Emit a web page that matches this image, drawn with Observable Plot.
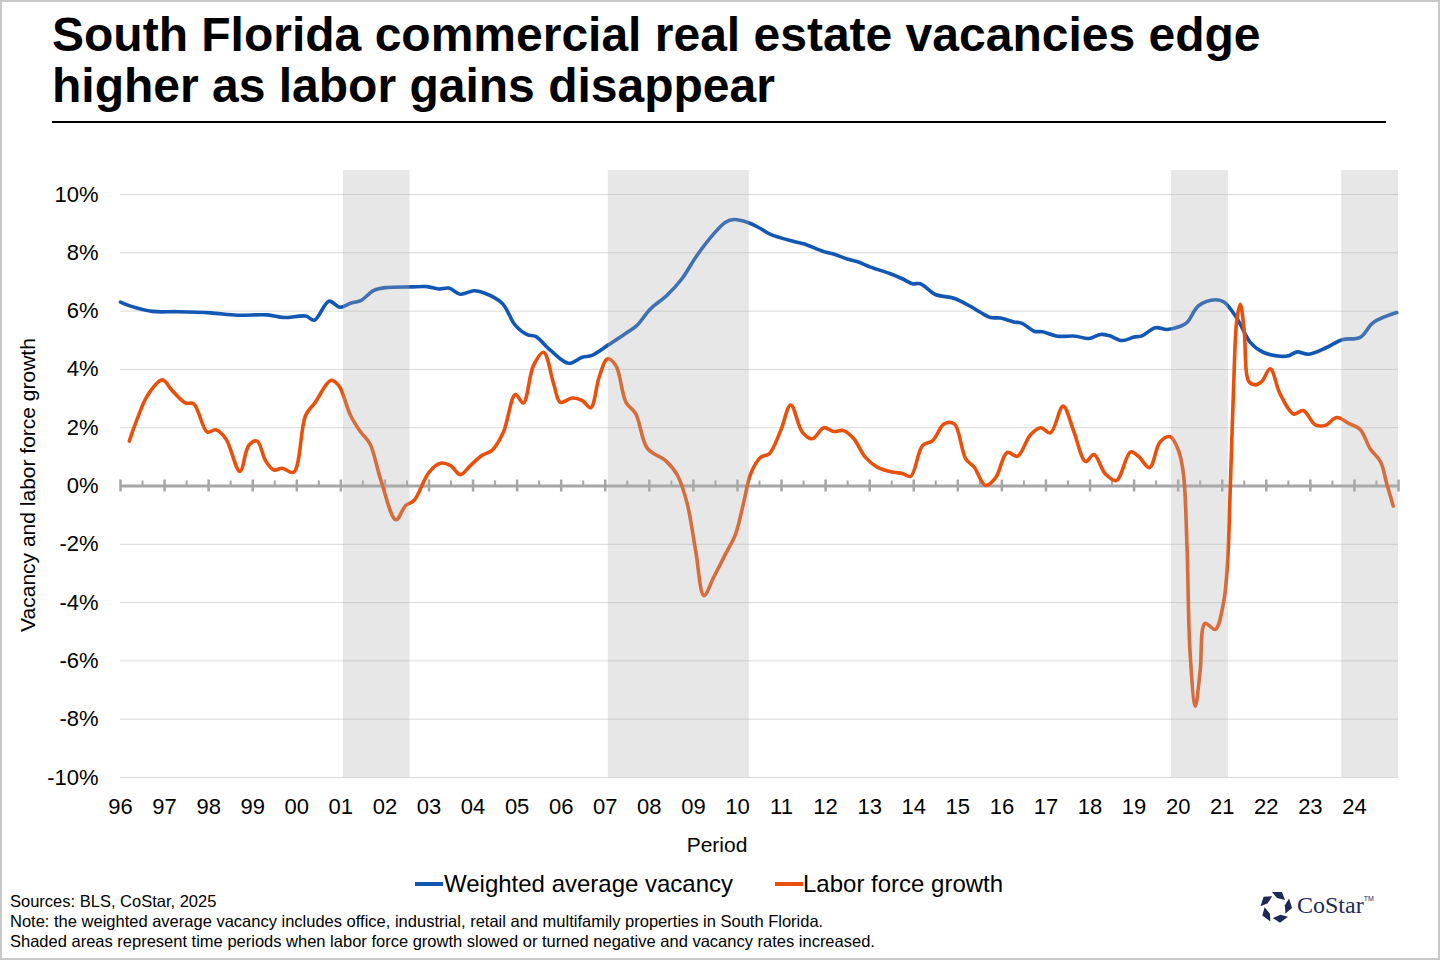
<!DOCTYPE html>
<html>
<head>
<meta charset="utf-8">
<script src="https://cdn.jsdelivr.net/npm/d3@7"></script>
<script src="https://cdn.jsdelivr.net/npm/@observablehq/plot@0.6"></script>
<style>
  html, body { margin: 0; padding: 0; background: #fff; }
  #frame { position: relative; width: 1440px; height: 960px; overflow: hidden; background: #fff;
           font-family: "Liberation Sans", Arial, sans-serif; color: #000; }
  #border { position: absolute; left: 0; top: 0; width: 1440px; height: 960px; box-sizing: border-box;
            border: 2px solid #c8c8c8; pointer-events: none; }
  #title { position: absolute; left: 52px; top: 9px; font-weight: bold; font-size: 48px; line-height: 51px; white-space: nowrap; }
  #rule { position: absolute; left: 52px; top: 121px; width: 1334px; height: 2px; background: #000; }
  #chart { position: absolute; left: 0; top: 150px; }
  #ylabel { position: absolute; left: 28px; top: 485px; transform: translate(-50%, -50%) rotate(-90deg);
            font-size: 21px; white-space: nowrap; }
  #xlabel { position: absolute; left: 717px; top: 845px; transform: translate(-50%, -50%); font-size: 21px; }
  .sw { position: absolute; height: 4px; width: 28px; }
  .lg { position: absolute; font-size: 24px; line-height: 28px; white-space: nowrap; }
  #notes { position: absolute; left: 10px; top: 891px; font-size: 16.5px; line-height: 20px; white-space: nowrap; }
  #logo { position: absolute; left: 1258px; top: 889px; }
  #logotext { position: absolute; left: 1297px; top: 892px; font-family: "Liberation Serif", "DejaVu Serif", serif;
              font-size: 24px; color: #1d2a57; white-space: nowrap; }
  #logotext sup { font-size: 7px; vertical-align: 12px; font-family: "Liberation Sans", Arial, sans-serif; }
</style>
</head>
<body>
<div id="frame">
  <div id="title">South Florida commercial real estate vacancies edge<br>higher as labor gains disappear</div>
  <div id="rule"></div>
  <div id="chart"></div>
  <div id="ylabel">Vacancy and labor force growth</div>
  <div id="xlabel">Period</div>
  <div class="sw" style="left:415px; top:882px; background:#1257b3;"></div>
  <div class="lg" style="left:444px; top:870px;">Weighted average vacancy</div>
  <div class="sw" style="left:775px; top:882px; background:#e8500c;"></div>
  <div class="lg" style="left:803px; top:870px;">Labor force growth</div>
  <div id="notes">Sources: BLS, CoStar, 2025<br>Note: the weighted average vacancy includes office, industrial, retail and multifamily properties in South Florida.<br>Shaded areas represent time periods when labor force growth slowed or turned negative and vacancy rates increased.</div>
  <svg id="logo" width="36" height="36" viewBox="-18 -18 36 36">
    <g fill="#1d2a57">
      <polygon points="-4,-15 6,-15 9,-7 1,-9" transform="rotate(0)"/>
      <polygon points="-4,-15 6,-15 9,-7 1,-9" transform="rotate(72)"/>
      <polygon points="-4,-15 6,-15 9,-7 1,-9" transform="rotate(144)"/>
      <polygon points="-4,-15 6,-15 9,-7 1,-9" transform="rotate(216)"/>
      <polygon points="-4,-15 6,-15 9,-7 1,-9" transform="rotate(288)"/>
    </g>
  </svg>
  <div id="logotext">CoStar<sup>TM</sup></div>
  <div id="border"></div>
</div>
<script>
// ---- Data ----
const vacancyDates = [1996.00,1996.23,1996.72,1997.29,1998.04,1998.65,1999.33,1999.71,2000.20,2000.40,2000.73,2000.98,2001.22,2001.45,2001.75,2002.05,2002.58,2002.96,2003.22,2003.45,2003.71,2004.02,2004.24,2004.66,2004.96,2005.23,2005.42,2005.76,2006.17,2006.48,2006.70,2007.08,2007.53,2007.72,2008.03,2008.40,2008.74,2009.08,2009.46,2009.73,2009.92,2010.22,2010.49,2010.75,2011.28,2011.50,2011.96,2012.18,2012.49,2012.71,2013.02,2013.47,2013.74,2013.97,2014.15,2014.49,2014.91,2015.29,2015.51,2015.74,2015.97,2016.27,2016.46,2016.73,2016.92,2017.26,2017.67,2017.97,2018.24,2018.43,2018.73,2019.00,2019.18,2019.48,2019.75,2020.05,2020.20,2020.47,2020.85,2021.04,2021.34,2021.64,2021.94,2022.32,2022.51,2022.70,2022.96,2023.38,2023.72,2024.13,2024.43,2024.96];
const vacancyValues = [6.31,6.17,5.99,5.98,5.94,5.86,5.87,5.78,5.83,5.69,6.34,6.13,6.27,6.36,6.71,6.81,6.83,6.84,6.76,6.79,6.58,6.70,6.63,6.27,5.51,5.19,5.13,4.65,4.21,4.42,4.48,4.85,5.30,5.51,6.08,6.54,7.11,7.91,8.65,9.05,9.14,9.05,8.86,8.63,8.39,8.31,8.04,7.96,7.79,7.70,7.51,7.28,7.11,6.94,6.94,6.57,6.44,6.16,5.96,5.78,5.76,5.63,5.58,5.31,5.29,5.14,5.14,5.06,5.20,5.16,4.99,5.11,5.15,5.43,5.37,5.48,5.61,6.19,6.39,6.31,5.74,4.92,4.58,4.45,4.47,4.60,4.52,4.76,5.02,5.10,5.61,5.95];

const laborDates = [1996.20,1996.38,1996.61,1996.95,1997.17,1997.47,1997.66,1997.97,1998.16,1998.39,1998.71,1998.91,1999.10,1999.29,1999.48,1999.67,1999.93,2000.20,2000.42,2000.77,2000.95,2001.22,2001.45,2001.66,2001.91,2002.25,2002.47,2002.66,2003.00,2003.26,2003.49,2003.71,2003.94,2004.20,2004.43,2004.69,2004.96,2005.14,2005.37,2005.60,2005.83,2005.98,2006.25,2006.48,2006.67,2006.86,2007.05,2007.24,2007.47,2007.69,2007.96,2008.37,2008.64,2008.86,2009.05,2009.24,2009.46,2009.73,2009.96,2010.15,2010.30,2010.53,2010.72,2010.98,2011.21,2011.47,2011.70,2011.96,2012.18,2012.41,2012.64,2012.90,2013.17,2013.55,2013.74,2013.93,2014.20,2014.43,2014.69,2014.92,2015.18,2015.37,2015.63,2015.86,2016.12,2016.35,2016.65,2016.88,2017.10,2017.39,2017.63,2017.90,2018.09,2018.35,2018.60,2018.92,2019.10,2019.35,2019.59,2019.82,2020.01,2020.12,2020.20,2020.27,2020.39,2020.50,2020.61,2020.84,2021.03,2021.12,2021.18,2021.26,2021.33,2021.41,2021.50,2021.60,2021.75,2021.90,2022.09,2022.31,2022.62,2022.84,2023.11,2023.34,2023.60,2023.87,2024.13,2024.36,2024.59,2024.74,2024.88];
const laborValues = [1.54,2.30,3.10,3.64,3.28,2.85,2.82,1.85,1.93,1.62,0.50,1.39,1.54,0.87,0.55,0.61,0.47,2.42,2.87,3.62,3.45,2.42,1.85,1.45,0.19,-1.16,-0.67,-0.50,0.47,0.78,0.70,0.39,0.70,1.05,1.22,1.85,3.14,2.85,4.13,4.59,3.50,2.87,3.02,2.93,2.68,3.73,4.36,4.13,2.87,2.48,1.28,0.87,0.36,-0.61,-2.21,-3.76,-3.13,-2.33,-1.64,-0.50,0.42,0.99,1.10,1.90,2.78,1.85,1.62,2.00,1.87,1.90,1.62,0.99,0.65,0.47,0.43,0.33,1.39,1.56,2.13,2.13,0.93,0.65,0.02,0.29,1.15,1.02,1.76,2.00,1.82,2.74,1.88,0.84,1.08,0.41,0.19,1.17,1.02,0.63,1.51,1.69,1.21,0.41,-2.04,-5.71,-7.55,-6.33,-4.71,-4.92,-4.00,-2.65,-0.20,3.47,5.68,6.23,5.31,3.59,3.47,3.59,4.02,3.17,2.47,2.59,2.10,2.08,2.35,2.15,1.94,1.27,0.84,0.04,-0.69];

// Shaded periods (start / end, in years)
const shadeStarts = [2001.06, 2007.07, 2019.85, 2023.71];
const shadeEnds   = [2002.57, 2010.27, 2021.14, 2025.00];

// Axis ticks and labels
const yTicks = [-10, -8, -6, -4, -2, 0, 2, 4, 6, 8, 10];
const yearTicks = d3.range(1996, 2025);
const yearLabels = ["96","97","98","99","00","01","02","03","04","05","06","07","08","09","10","11","12","13","14","15","16","17","18","19","20","21","22","23","24"];
const majorTicks = d3.range(1996, 2026);
const minorTicks = d3.range(1996, 2025).map(y => y + 0.5);

// ---- Tables ----
const vacancy = vacancyDates.map((t, i) => ({t, v: vacancyValues[i]}));
const labor = laborDates.map((t, i) => ({t, v: laborValues[i]}));
const shades = shadeStarts.map((s, i) => ({start: s, end: shadeEnds[i]}));

const BLUE = "#1257b3", ORANGE = "#e8500c", AXIS = "#a6a6a6";

const chart = Plot.plot({
  width: 1440,
  height: 720,
  marginLeft: 120,
  marginRight: 42,
  marginTop: 44,
  marginBottom: 93,
  x: {type: "linear", domain: [1996, 2025]},
  y: {domain: [-10, 10]},
  style: {fontFamily: '"Liberation Sans", Arial, sans-serif', color: "#000", background: "transparent", overflow: "visible"},
  marks: [
    Plot.ruleY(yTicks.filter(d => d !== 0), {stroke: "#d9d9d9", strokeWidth: 1}),
    Plot.axisY({ticks: yTicks, tickFormat: d => d + "%", tickSize: 0, tickPadding: 22, fontSize: 22, label: null}),
    Plot.axisX({ticks: yearTicks, tickFormat: d => yearLabels[yearTicks.indexOf(d)], tickSize: 0, tickPadding: 21, fontSize: 22, label: null}),
    Plot.ruleY([0], {stroke: AXIS, strokeWidth: 3}),
    Plot.ruleX(majorTicks, {x: d => d, y1: 0, y2: 0, stroke: AXIS, strokeWidth: 2.5, insetTop: -6, insetBottom: -6}),
    Plot.ruleX(minorTicks, {x: d => d, y1: 0, y2: 0, stroke: AXIS, strokeWidth: 2, insetTop: -5, insetBottom: 0}),
    Plot.line(vacancy, {x: "t", y: "v", stroke: BLUE, strokeWidth: 3.6, curve: "catmull-rom"}),
    Plot.line(labor, {x: "t", y: "v", stroke: ORANGE, strokeWidth: 3.6, curve: "catmull-rom"}),
    Plot.rect(shades, {x1: "start", x2: "end", fill: "#b0b0b0", fillOpacity: 0.3, insetTop: -24})
  ]
});
document.getElementById("chart").appendChild(chart);
</script>
</body>
</html>
